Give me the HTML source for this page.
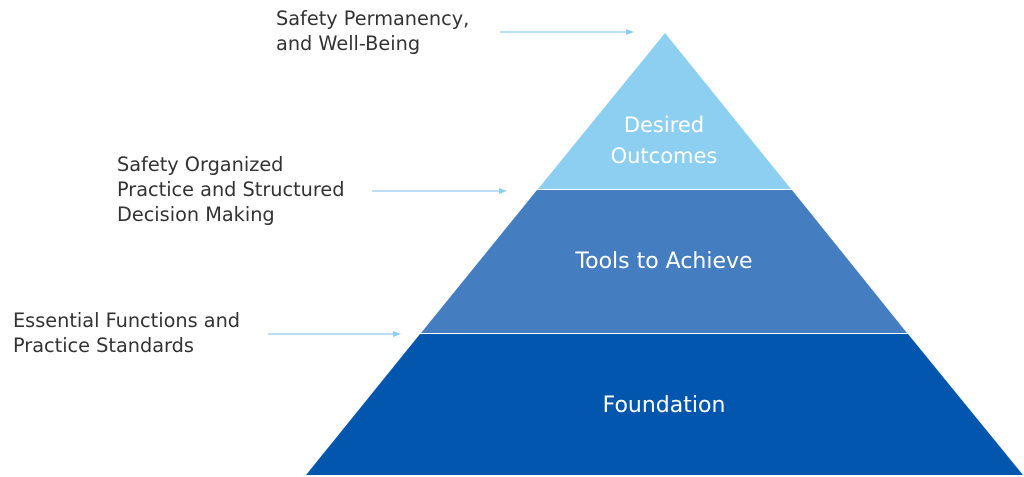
<!DOCTYPE html>
<html><head><style>
body{margin:0;width:1024px;height:477px;background:#fff;overflow:hidden}
svg{display:block}
</style></head><body>
<svg width="1024" height="477" viewBox="0 0 1024 477" xmlns="http://www.w3.org/2000/svg" font-family="'DejaVu Sans','Liberation Sans',sans-serif">
<polygon points="665,33 791,189 538,189" fill="#8dcff0"/>
<polygon points="537,190 792,190 907,333 421,333" fill="#447dc0"/>
<polygon points="420,334 908,334 1023,475 306,475" fill="#0256ad"/>
<g fill="#fff" text-anchor="middle">
<text x="664" y="132" font-size="21">Desired</text>
<text x="664" y="163" font-size="21">Outcomes</text>
<text x="664" y="268" font-size="22">Tools to Achieve</text>
<text x="664" y="412" font-size="22">Foundation</text>
</g>
<g stroke="#8dcff0" stroke-width="1.3">
<line x1="500" y1="32" x2="628" y2="32"/>
<line x1="372" y1="191" x2="501" y2="191"/>
<line x1="268" y1="334" x2="395" y2="334"/>
</g>
<g fill="#8dcff0">
<polygon points="634,32 626,29 626,35"/>
<polygon points="507,191 499,188 499,194"/>
<polygon points="401,334 393,331 393,337"/>
</g>
<g font-size="19.3" fill="#333">
<text x="276" y="25">Safety Permanency,</text>
<text x="276" y="50">and Well-Being</text>
<text x="117" y="171">Safety Organized</text>
<text x="117" y="196">Practice and Structured</text>
<text x="117" y="221">Decision Making</text>
<text x="13" y="327">Essential Functions and</text>
<text x="13" y="352">Practice Standards</text>
</g>
</svg>
</body></html>
